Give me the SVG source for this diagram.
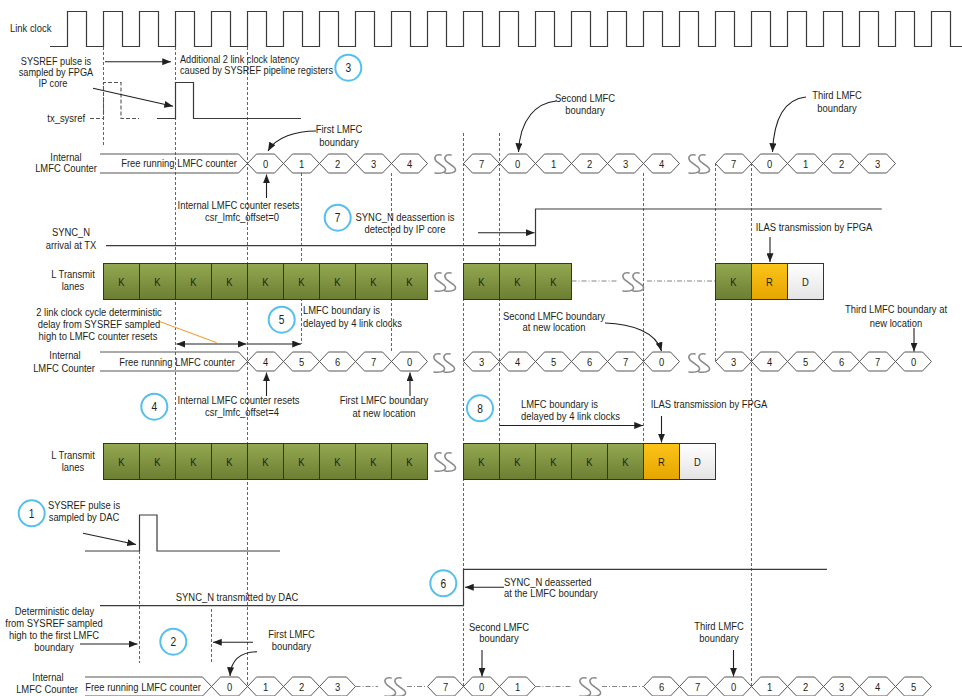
<svg xmlns="http://www.w3.org/2000/svg" width="962" height="696" viewBox="0 0 962 696">
<defs>
<style>
.t{font-family:"Liberation Sans",Arial,sans-serif;font-size:11.5px;fill:#231f20}
.s{font-size:10.8px}
.m{text-anchor:middle}
.e{text-anchor:end}
.n{font-size:12px}
.sig{fill:none;stroke:#3a3a3a;stroke-width:1.2}
.dsig{fill:none;stroke:#555;stroke-width:1.1;stroke-dasharray:4 2}
.dash{fill:none;stroke:#555;stroke-width:0.9;stroke-dasharray:3 2}
.dd{fill:none;stroke:#777;stroke-width:0.9;stroke-dasharray:5 2 1 2}
.arr{fill:none;stroke:#231f20;stroke-width:1.1;marker-end:url(#ah)}
.arr2{fill:none;stroke:#231f20;stroke-width:1.1;marker-end:url(#ah);marker-start:url(#ah)}
.circ{fill:#fff;stroke:#55c0f0;stroke-width:2}
.sq{fill:none;stroke:#8a8a8a;stroke-width:1.6;stroke-linecap:round}
.fr{fill:none;stroke:#444;stroke-width:0.9}
</style>
<linearGradient id="gk" x1="0" y1="0" x2="0" y2="1"><stop offset="0" stop-color="#94a851"/><stop offset="1" stop-color="#6b7e33"/></linearGradient>
<linearGradient id="gr" x1="0" y1="0" x2="0" y2="1"><stop offset="0" stop-color="#fcc419"/><stop offset="1" stop-color="#e5a500"/></linearGradient>
<linearGradient id="gd" x1="0" y1="0" x2="0" y2="1"><stop offset="0" stop-color="#ffffff"/><stop offset="1" stop-color="#e4e4e4"/></linearGradient>
<path id="hx" d="M0,0 L9,-9.5 H27 L36,0 L27,9.5 H9 Z" fill="#fff" stroke="#444" stroke-width="0.9"/>
<rect id="kb" width="36" height="36" fill="url(#gk)" stroke="#333" stroke-width="1"/>
<rect id="rb" width="36" height="36" fill="url(#gr)" stroke="#333" stroke-width="1"/>
<rect id="db" width="36" height="36" fill="url(#gd)" stroke="#333" stroke-width="1"/>
<path id="sqg" class="sq" d="M9,1 C3,0 1,4 5,8 L12,13 C16,17 12,20 3,19 M19,1 C13,0 11,4 15,8 L22,13 C26,17 22,20 13,19"/>
<marker id="ah" viewBox="0 0 10 8" refX="10" refY="4" markerWidth="9" markerHeight="7" markerUnits="userSpaceOnUse" orient="auto-start-reverse"><path d="M0,0 L10,4 L0,8 Z" fill="#231f20"/></marker>
</defs>
<rect width="962" height="696" fill="#fff"/>

<g id="gridlines">
<path class="dash" d="M103.5,47 V145 M175.5,47 V443 M247.5,47 V686 M301.5,173 V344 M391.5,173 V352 M463.5,133 V686 M499.5,133 V443 M643.5,173 V443 M715.5,163 V361 M751.5,163 V686 M139.5,551 V663 M211.5,609 V663"/>
</g>

<g id="linkclock">
<path class="sig" d="M50,46.5 H67.5 v-35h19v35h17 v-35h19v35h17 v-35h19v35h17 v-35h19v35h17 v-35h19v35h17 v-35h19v35h17 v-35h19v35h17 v-35h19v35h17 v-35h19v35h17 v-35h19v35h17 v-35h19v35h17 v-35h19v35h17 v-35h19v35h17 v-35h19v35h17 v-35h19v35h17 v-35h19v35h17 v-35h19v35h17 v-35h19v35h17 v-35h19v35h17 v-35h19v35h17 v-35h19v35h17 v-35h19v35h17 v-35h19v35h17 v-35h19v35h17 v-35h19v35h11.5"/>
<text class="t" transform="translate(10,32) scale(.82,1)">Link clock</text>
</g>

<g id="txsysref">
<path class="dsig" d="M90,118.5 H103.5 V82.5 H121 V118.5 H139"/>
<path class="sig" d="M157,118.5 H175.5 V82.5 H193.5 V118.5 H301"/>
<text class="t e" transform="translate(85,122) scale(.82,1)">tx_sysref</text>
<text class="t s m" transform="translate(56,64.5) scale(.85,1)">SYSREF pulse is</text>
<text class="t s m" transform="translate(56,75.5) scale(.85,1)">sampled by FPGA</text>
<text class="t s m" transform="translate(53,86.5) scale(.85,1)">IP core</text>
<text class="t s" transform="translate(180,63) scale(.85,1)">Additional 2 link clock latency</text>
<text class="t s" transform="translate(180,74) scale(.85,1)">caused by SYSREF pipeline registers</text>
</g>

<g id="lmfc1">
<text class="t m" transform="translate(66,160.5) scale(.82,1)">Internal</text>
<text class="t m" transform="translate(66,172) scale(.82,1)">LMFC Counter</text>
<path class="fr" d="M100,154 H238.5 L247.5,163.5 L238.5,173 H100"/>
<text class="t m" transform="translate(179,166.5) scale(.82,1)">Free running LMFC counter</text>
<use href="#hx" x="247.5" y="163.5"/><use href="#hx" x="283.5" y="163.5"/><use href="#hx" x="319.5" y="163.5"/><use href="#hx" x="355.5" y="163.5"/><use href="#hx" x="391.5" y="163.5"/>
<use href="#hx" x="463.5" y="163.5"/><use href="#hx" x="499.5" y="163.5"/><use href="#hx" x="535.5" y="163.5"/><use href="#hx" x="571.5" y="163.5"/><use href="#hx" x="607.5" y="163.5"/><use href="#hx" x="643.5" y="163.5"/>
<use href="#hx" x="715.5" y="163.5"/><use href="#hx" x="751.5" y="163.5"/><use href="#hx" x="787.5" y="163.5"/><use href="#hx" x="823.5" y="163.5"/><use href="#hx" x="859.5" y="163.5"/>
<use href="#sqg" x="432" y="154"/><use href="#sqg" x="686" y="154"/>
<g class="t m">
<text transform="translate(265.5,167.5) scale(.82,1)">0</text><text transform="translate(301.5,167.5) scale(.82,1)">1</text><text transform="translate(337.5,167.5) scale(.82,1)">2</text><text transform="translate(373.5,167.5) scale(.82,1)">3</text><text transform="translate(409.5,167.5) scale(.82,1)">4</text>
<text transform="translate(481.5,167.5) scale(.82,1)">7</text><text transform="translate(517.5,167.5) scale(.82,1)">0</text><text transform="translate(553.5,167.5) scale(.82,1)">1</text><text transform="translate(589.5,167.5) scale(.82,1)">2</text><text transform="translate(625.5,167.5) scale(.82,1)">3</text><text transform="translate(661.5,167.5) scale(.82,1)">4</text>
<text transform="translate(733.5,167.5) scale(.82,1)">7</text><text transform="translate(769.5,167.5) scale(.82,1)">0</text><text transform="translate(805.5,167.5) scale(.82,1)">1</text><text transform="translate(841.5,167.5) scale(.82,1)">2</text><text transform="translate(877.5,167.5) scale(.82,1)">3</text>
</g>
<text class="t m" transform="translate(339,133) scale(.82,1)">First LMFC</text>
<text class="t m" transform="translate(339,145.5) scale(.82,1)">boundary</text>
<text class="t m" transform="translate(585,102) scale(.82,1)">Second LMFC</text>
<text class="t m" transform="translate(585,114) scale(.82,1)">boundary</text>
<text class="t m" transform="translate(837,99) scale(.82,1)">Third LMFC</text>
<text class="t m" transform="translate(837,112) scale(.82,1)">boundary</text>
<text class="t m" transform="translate(238.5,209) scale(.82,1)">Internal LMFC counter resets</text>
<text class="t m" transform="translate(242,221) scale(.82,1)">csr_lmfc_offset=0</text>
</g>

<g id="syncn-tx">
<text class="t m" transform="translate(71,235.5) scale(.82,1)">SYNC_N</text>
<text class="t m" transform="translate(71,249) scale(.82,1)">arrival at TX</text>
<path class="sig" d="M106,245.7 H535.5 V209 H881.7"/>
<text class="t m" transform="translate(405,221) scale(.82,1)">SYNC_N deassertion is</text>
<text class="t m" transform="translate(405,233) scale(.82,1)">detected  by IP core</text>
</g>

<g id="lanes1">
<text class="t m" transform="translate(73,278) scale(.82,1)">L Transmit</text>
<text class="t m" transform="translate(73,289.5) scale(.82,1)">lanes</text>
<use href="#kb" x="103.5" y="263.5"/><use href="#kb" x="139.5" y="263.5"/><use href="#kb" x="175.5" y="263.5"/><use href="#kb" x="211.5" y="263.5"/><use href="#kb" x="247.5" y="263.5"/><use href="#kb" x="283.5" y="263.5"/><use href="#kb" x="319.5" y="263.5"/><use href="#kb" x="355.5" y="263.5"/><use href="#kb" x="391.5" y="263.5"/>
<use href="#kb" x="463.5" y="263.5"/><use href="#kb" x="499.5" y="263.5"/><use href="#kb" x="535.5" y="263.5"/>
<use href="#kb" x="715.5" y="263.5"/><use href="#rb" x="751.5" y="263.5"/><use href="#db" x="787.5" y="263.5"/>
<path class="dd" d="M571.5,281 H617 M647,281 H715.5"/>
<use href="#sqg" x="432" y="272"/><use href="#sqg" x="620" y="272"/>
<g class="t m">
<text transform="translate(121.5,285.5) scale(.82,1)">K</text><text transform="translate(157.5,285.5) scale(.82,1)">K</text><text transform="translate(193.5,285.5) scale(.82,1)">K</text><text transform="translate(229.5,285.5) scale(.82,1)">K</text><text transform="translate(265.5,285.5) scale(.82,1)">K</text><text transform="translate(301.5,285.5) scale(.82,1)">K</text><text transform="translate(337.5,285.5) scale(.82,1)">K</text><text transform="translate(373.5,285.5) scale(.82,1)">K</text><text transform="translate(409.5,285.5) scale(.82,1)">K</text>
<text transform="translate(481.5,285.5) scale(.82,1)">K</text><text transform="translate(517.5,285.5) scale(.82,1)">K</text><text transform="translate(553.5,285.5) scale(.82,1)">K</text>
<text transform="translate(733.5,285.5) scale(.82,1)">K</text><text transform="translate(769.5,285.5) scale(.82,1)">R</text><text transform="translate(805.5,285.5) scale(.82,1)">D</text>
</g>
<text class="t m" transform="translate(814,231) scale(.82,1)">ILAS transmission by FPGA</text>
</g>

<g id="lmfc2">
<text class="t m" transform="translate(99,316) scale(.82,1)">2 link clock cycle deterministic</text>
<text class="t m" transform="translate(99,328) scale(.82,1)">delay from SYSREF sampled</text>
<text class="t m" transform="translate(98,340) scale(.82,1)">high to LMFC counter resets</text>
<path d="M160,321.7 L216.7,342.7" fill="none" stroke="#f7941d" stroke-width="1"/>
<text class="t" transform="translate(303,314) scale(.82,1)">LMFC boundary is</text>
<text class="t" transform="translate(303,326.5) scale(.82,1)">delayed by 4 link clocks</text>
<text class="t m" transform="translate(65,359) scale(.82,1)">Internal</text>
<text class="t m" transform="translate(64,371.5) scale(.82,1)">LMFC Counter</text>
<path class="fr" d="M100,352 H238.5 L247.5,361.5 L238.5,371 H100"/>
<text class="t m" transform="translate(177,365.5) scale(.82,1)">Free running LMFC counter</text>
<use href="#hx" x="247.5" y="361.5"/><use href="#hx" x="283.5" y="361.5"/><use href="#hx" x="319.5" y="361.5"/><use href="#hx" x="355.5" y="361.5"/><use href="#hx" x="391.5" y="361.5"/>
<use href="#hx" x="463.5" y="361.5"/><use href="#hx" x="499.5" y="361.5"/><use href="#hx" x="535.5" y="361.5"/><use href="#hx" x="571.5" y="361.5"/><use href="#hx" x="607.5" y="361.5"/><use href="#hx" x="643.5" y="361.5"/>
<use href="#hx" x="715.5" y="361.5"/><use href="#hx" x="751.5" y="361.5"/><use href="#hx" x="787.5" y="361.5"/><use href="#hx" x="823.5" y="361.5"/><use href="#hx" x="859.5" y="361.5"/><use href="#hx" x="895.5" y="361.5"/>
<use href="#sqg" x="431" y="353"/><use href="#sqg" x="686" y="353"/>
<g class="t m">
<text transform="translate(265.5,365.5) scale(.82,1)">4</text><text transform="translate(301.5,365.5) scale(.82,1)">5</text><text transform="translate(337.5,365.5) scale(.82,1)">6</text><text transform="translate(373.5,365.5) scale(.82,1)">7</text><text transform="translate(409.5,365.5) scale(.82,1)">0</text>
<text transform="translate(481.5,365.5) scale(.82,1)">3</text><text transform="translate(517.5,365.5) scale(.82,1)">4</text><text transform="translate(553.5,365.5) scale(.82,1)">5</text><text transform="translate(589.5,365.5) scale(.82,1)">6</text><text transform="translate(625.5,365.5) scale(.82,1)">7</text><text transform="translate(661.5,365.5) scale(.82,1)">0</text>
<text transform="translate(733.5,365.5) scale(.82,1)">3</text><text transform="translate(769.5,365.5) scale(.82,1)">4</text><text transform="translate(805.5,365.5) scale(.82,1)">5</text><text transform="translate(841.5,365.5) scale(.82,1)">6</text><text transform="translate(877.5,365.5) scale(.82,1)">7</text><text transform="translate(913.5,365.5) scale(.82,1)">0</text>
</g>
<text class="t m" transform="translate(238.5,404) scale(.82,1)">Internal LMFC counter resets</text>
<text class="t m" transform="translate(242,415.5) scale(.82,1)">csr_lmfc_offset=4</text>
<text class="t m" transform="translate(384,404) scale(.82,1)">First LMFC boundary</text>
<text class="t m" transform="translate(384,417) scale(.82,1)">at new location</text>
<text class="t m" transform="translate(554,319.5) scale(.82,1)">Second LMFC boundary</text>
<text class="t m" transform="translate(554,331) scale(.82,1)">at new location</text>
<text class="t m" transform="translate(896,313) scale(.82,1)">Third LMFC boundary at</text>
<text class="t m" transform="translate(896,326.5) scale(.82,1)">new location</text>
<text class="t" transform="translate(521,408) scale(.82,1)">LMFC boundary is</text>
<text class="t" transform="translate(521,419.5) scale(.82,1)">delayed by 4 link clocks</text>
<text class="t m" transform="translate(709,408) scale(.82,1)">ILAS transmission by FPGA</text>
</g>

<g id="lanes2">
<text class="t m" transform="translate(73,459) scale(.82,1)">L Transmit</text>
<text class="t m" transform="translate(73,470.5) scale(.82,1)">lanes</text>
<use href="#kb" x="103.5" y="443.5"/><use href="#kb" x="139.5" y="443.5"/><use href="#kb" x="175.5" y="443.5"/><use href="#kb" x="211.5" y="443.5"/><use href="#kb" x="247.5" y="443.5"/><use href="#kb" x="283.5" y="443.5"/><use href="#kb" x="319.5" y="443.5"/><use href="#kb" x="355.5" y="443.5"/><use href="#kb" x="391.5" y="443.5"/>
<use href="#kb" x="463.5" y="443.5"/><use href="#kb" x="499.5" y="443.5"/><use href="#kb" x="535.5" y="443.5"/><use href="#kb" x="571.5" y="443.5"/><use href="#kb" x="607.5" y="443.5"/><use href="#rb" x="643.5" y="443.5"/><use href="#db" x="679.5" y="443.5"/>
<use href="#sqg" x="432" y="452"/>
<g class="t m">
<text transform="translate(121.5,465.5) scale(.82,1)">K</text><text transform="translate(157.5,465.5) scale(.82,1)">K</text><text transform="translate(193.5,465.5) scale(.82,1)">K</text><text transform="translate(229.5,465.5) scale(.82,1)">K</text><text transform="translate(265.5,465.5) scale(.82,1)">K</text><text transform="translate(301.5,465.5) scale(.82,1)">K</text><text transform="translate(337.5,465.5) scale(.82,1)">K</text><text transform="translate(373.5,465.5) scale(.82,1)">K</text><text transform="translate(409.5,465.5) scale(.82,1)">K</text>
<text transform="translate(481.5,465.5) scale(.82,1)">K</text><text transform="translate(517.5,465.5) scale(.82,1)">K</text><text transform="translate(553.5,465.5) scale(.82,1)">K</text><text transform="translate(589.5,465.5) scale(.82,1)">K</text><text transform="translate(625.5,465.5) scale(.82,1)">K</text><text transform="translate(661.5,465.5) scale(.82,1)">R</text><text transform="translate(697.5,465.5) scale(.82,1)">D</text>
</g>
</g>

<g id="dac-sysref">
<path class="sig" d="M85,551 H139.5 V515 H157 V551 H280"/>
<text class="t m" transform="translate(84,509) scale(.82,1)">SYSREF pulse is</text>
<text class="t m" transform="translate(84,521) scale(.82,1)">sampled by DAC</text>
</g>

<g id="syncn-dac">
<path class="sig" d="M100,605.7 H463.5 V569.3 H827"/>
<text class="t m" transform="translate(237,601) scale(.82,1)">SYNC_N transmitted by DAC</text>
<text class="t m" transform="translate(54.5,615) scale(.82,1)">Deterministic delay</text>
<text class="t m" transform="translate(54,627) scale(.82,1)">from SYSREF sampled</text>
<text class="t m" transform="translate(54,638.5) scale(.82,1)">high to the first LMFC</text>
<text class="t m" transform="translate(54,650.5) scale(.82,1)">boundary</text>
<text class="t m" transform="translate(291.5,638) scale(.82,1)">First LMFC</text>
<text class="t m" transform="translate(291.5,650) scale(.82,1)">boundary</text>
<text class="t" transform="translate(504,585.5) scale(.82,1)">SYNC_N deasserted</text>
<text class="t" transform="translate(504,597) scale(.82,1)">at the LMFC boundary</text>
<text class="t m" transform="translate(499,630.5) scale(.82,1)">Second LMFC</text>
<text class="t m" transform="translate(499,642) scale(.82,1)">boundary</text>
<text class="t m" transform="translate(719,629.5) scale(.82,1)">Third LMFC</text>
<text class="t m" transform="translate(719,642) scale(.82,1)">boundary</text>
</g>

<g id="lmfc3">
<text class="t m" transform="translate(48,680.5) scale(.82,1)">Internal</text>
<text class="t m" transform="translate(47,693) scale(.82,1)">LMFC Counter</text>
<path class="fr" d="M85,677 H202.5 L211.5,686.5 L202.5,696 H85"/>
<text class="t m" transform="translate(143,690.5) scale(.82,1)">Free running LMFC counter</text>
<use href="#hx" x="211.5" y="686.5"/><use href="#hx" x="247.5" y="686.5"/><use href="#hx" x="283.5" y="686.5"/><use href="#hx" x="319.5" y="686.5"/>
<use href="#hx" x="427.5" y="686.5"/><use href="#hx" x="463.5" y="686.5"/><use href="#hx" x="499.5" y="686.5"/>
<use href="#hx" x="643.5" y="686.5"/><use href="#hx" x="679.5" y="686.5"/><use href="#hx" x="715.5" y="686.5"/><use href="#hx" x="751.5" y="686.5"/><use href="#hx" x="787.5" y="686.5"/><use href="#hx" x="823.5" y="686.5"/><use href="#hx" x="859.5" y="686.5"/><use href="#hx" x="895.5" y="686.5"/>
<path class="dd" d="M355.5,686.5 H378 M407,686.5 H427.5 M535.5,686.5 H572 M602,686.5 H643.5"/>
<use href="#sqg" x="382" y="677"/><use href="#sqg" x="577" y="677"/>
<g class="t m">
<text transform="translate(229.5,690.5) scale(.82,1)">0</text><text transform="translate(265.5,690.5) scale(.82,1)">1</text><text transform="translate(301.5,690.5) scale(.82,1)">2</text><text transform="translate(337.5,690.5) scale(.82,1)">3</text>
<text transform="translate(445.5,690.5) scale(.82,1)">7</text><text transform="translate(481.5,690.5) scale(.82,1)">0</text><text transform="translate(517.5,690.5) scale(.82,1)">1</text>
<text transform="translate(661.5,690.5) scale(.82,1)">6</text><text transform="translate(697.5,690.5) scale(.82,1)">7</text><text transform="translate(733.5,690.5) scale(.82,1)">0</text><text transform="translate(769.5,690.5) scale(.82,1)">1</text><text transform="translate(805.5,690.5) scale(.82,1)">2</text><text transform="translate(841.5,690.5) scale(.82,1)">3</text><text transform="translate(877.5,690.5) scale(.82,1)">4</text><text transform="translate(913.5,690.5) scale(.82,1)">5</text>
</g>
</g>

<g id="connectors">
<path class="arr" d="M105,61.7 H171"/>
<path class="arr" d="M93,88.3 L173,106.3"/>
<path class="arr" d="M316,131 C296,131 276,137 268,151"/>
<path class="arr" d="M556,101 C537,103 520,118 518.5,152"/>
<path class="arr" d="M806,97 C787,99 774,115 772.5,152"/>
<path class="arr" d="M266.5,198 V174.5"/>
<path class="arr" d="M478,232.7 H534.5"/>
<path class="arr" d="M770,237 V262"/>
<path class="arr2" d="M176.5,344 H246.5"/>
<path class="arr" d="M248,344 H301"/>
<path class="arr" d="M266.5,396 V372.5"/>
<path class="arr" d="M410,396 V372.5"/>
<path class="arr" d="M605,323 C632,324 656,332 661.5,351"/>
<path class="arr" d="M914,328 V351.5"/>
<path class="arr" d="M499.5,425.5 H643"/>
<path class="arr" d="M661.5,416 V442.5"/>
<path class="arr" d="M83,533.3 L136,544.5"/>
<path class="arr" d="M80,644 H137.5"/>
<path class="arr" d="M253,642.3 H213"/>
<path class="arr" d="M257,651.7 C240,652 231,660 230,676"/>
<path class="arr" d="M504,587.3 H465"/>
<path class="arr" d="M482,650 V676.5"/>
<path class="arr" d="M733.5,650 V676.5"/>
</g>

<g id="callouts">
<g id="c1"><circle class="circ" cx="31.7" cy="513.3" r="13"/><text class="t m n" transform="translate(31.7,517.5) scale(.85,1)">1</text></g>
<g id="c2"><circle class="circ" cx="173.3" cy="641.7" r="13"/><text class="t m n" transform="translate(173.3,646) scale(.85,1)">2</text></g>
<g id="c3"><circle class="circ" cx="348.3" cy="67.7" r="13"/><text class="t m n" transform="translate(348.3,72) scale(.85,1)">3</text></g>
<g id="c4"><circle class="circ" cx="154.3" cy="406.7" r="13"/><text class="t m n" transform="translate(154.3,411) scale(.85,1)">4</text></g>
<g id="c5"><circle class="circ" cx="281.7" cy="319.7" r="13"/><text class="t m n" transform="translate(281.7,324) scale(.85,1)">5</text></g>
<g id="c6"><circle class="circ" cx="443.3" cy="583.3" r="13"/><text class="t m n" transform="translate(443.3,587.5) scale(.85,1)">6</text></g>
<g id="c7"><circle class="circ" cx="337.7" cy="217.7" r="13"/><text class="t m n" transform="translate(337.7,222) scale(.85,1)">7</text></g>
<g id="c8"><circle class="circ" cx="480" cy="408.3" r="13"/><text class="t m n" transform="translate(480,412.5) scale(.85,1)">8</text></g>
</g>
</svg>
